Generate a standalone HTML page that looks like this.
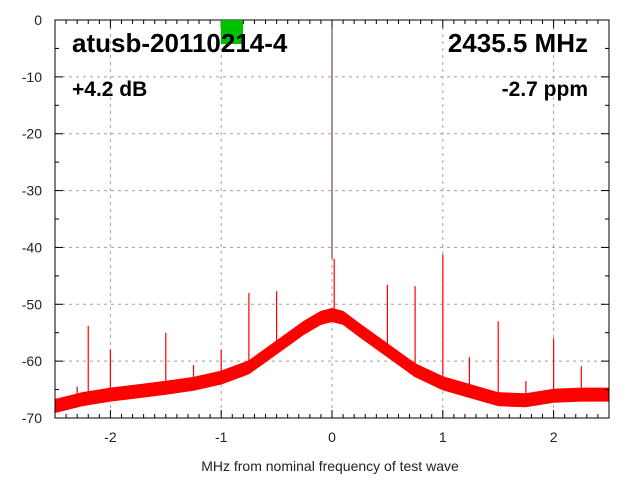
<!DOCTYPE html>
<html><head><meta charset="utf-8"><style>
body{margin:0;background:#fff}
svg{display:block;font-family:"Liberation Sans",sans-serif}
</style></head><body>
<svg id="chart" width="640" height="480" viewBox="0 0 640 480">
<g id="grid"></g>
<g id="band"></g>
<g id="spurs"></g>
<g id="axes"></g>
<rect x="221" y="20" width="22" height="24" fill="#00c000"/>
<text x="72" y="52" font-size="26" font-weight="bold">atusb-20110214-4</text>
<text x="588" y="52" font-size="26" font-weight="bold" text-anchor="end">2435.5 MHz</text>
<text x="72" y="96" font-size="21" font-weight="bold">+4.2 dB</text>
<text x="588" y="96" font-size="21" font-weight="bold" text-anchor="end">-2.7 ppm</text>
<text x="330" y="471" font-size="14" text-anchor="middle" fill="#222">MHz from nominal frequency of test wave</text>
</svg>
<script>
const floorX=[-2.5,-2.25,-2,-1.75,-1.5,-1.25,-1,-0.75,-0.5,-0.25,-0.1,0,0.1,0.25,0.5,0.75,1,1.25,1.5,1.75,2,2.25,2.5];
const floorDb=[-67.8,-66.6,-65.8,-65.2,-64.6,-63.9,-62.8,-61,-57.5,-54,-52.3,-51.8,-52.3,-54.5,-58,-61.5,-63.8,-65.2,-66.6,-66.8,-66,-65.8,-65.8];
const spurX=[-2.3,-2.2,-2,-1.5,-1.3,-1.25,-1,-0.75,-0.5,0.02,0.5,0.6,0.75,1,1.24,1.5,1.75,2,2.25];
const spurDb=[-64.5,-53.8,-57.9,-55,-63,-60.7,-58,-48,-47.7,-42,-46.6,-59,-46.8,-41.2,-59.3,-53,-63.5,-56,-60.9];
const yTicks=[0,-10,-20,-30,-40,-50,-60,-70];
const xTicks=[-2,-1,0,1,2];
const L=55,R=609,T=20,B=418;
const X=v=>L+(v+2.5)/5*(R-L);
const Y=v=>T+(-v)/70*(B-T);
const NS='http://www.w3.org/2000/svg';
function mk(tag,attrs,parent){const e=document.createElementNS(NS,tag);for(const k in attrs)e.setAttribute(k,attrs[k]);parent.appendChild(e);return e;}
const grid=document.getElementById('grid'),axes=document.getElementById('axes'),band=document.getElementById('band'),spurs=document.getElementById('spurs');
yTicks.forEach(t=>{
  if(t!==0&&t!==-70){const g=mk('line',{x1:L,x2:R,y1:Y(t),y2:Y(t),stroke:'#a0a0a0','stroke-dasharray':'3,4'},grid);
  
  }
  const tx=mk('text',{x:42,y:Y(t)+5,'font-size':14,'text-anchor':'end',fill:'#222'},axes);tx.textContent=t;
  
  
});
for(let v=-65;v<0;v+=10){mk('line',{x1:L,x2:L+4,y1:Y(v),y2:Y(v),stroke:'#000'},axes);mk('line',{x1:R,x2:R-4,y1:Y(v),y2:Y(v),stroke:'#000'},axes);}
yTicks.forEach(t=>{mk('line',{x1:L,x2:L+8,y1:Y(t),y2:Y(t),stroke:'#000'},axes);mk('line',{x1:R,x2:R-8,y1:Y(t),y2:Y(t),stroke:'#000'},axes);});
xTicks.forEach(t=>{
  const g=mk('line',{x1:X(t),x2:X(t),y1:T,y2:B,stroke:'#a0a0a0','stroke-dasharray':'3,4'},grid);
  
  
  const tx=mk('text',{x:X(t),y:442,'font-size':14,'text-anchor':'middle',fill:'#222'},axes);tx.textContent=t;
  
  
});
for(let i=-24;i<=24;i++){const v=i/10,big=i%10===0,h=big?8:4;
  mk('line',{x1:X(v),x2:X(v),y1:B,y2:B-h,stroke:'#000'},axes);mk('line',{x1:X(v),x2:X(v),y1:T,y2:T+h,stroke:'#000'},axes);}
const fr=mk('rect',{x:L,y:T,width:R-L,height:B-T,fill:'none',stroke:'#000'},axes);


// noise band
let up=[],dn=[];
floorX.forEach((x,i)=>{up.push(X(x)+','+(Y(floorDb[i])-6));dn.unshift(X(x)+','+Math.min(B,Y(floorDb[i])+7));});
const p=mk('polygon',{points:up.concat(dn).join(' '),fill:'#ff0000',stroke:'#ff0000','stroke-width':1,'stroke-linejoin':'bevel'},band);


function floorAt(x){for(let i=0;i<floorX.length-1;i++){if(x<=floorX[i+1]){const f=(x-floorX[i])/(floorX[i+1]-floorX[i]);return floorDb[i]+f*(floorDb[i+1]-floorDb[i]);}}return floorDb[floorDb.length-1];}
spurX.forEach((x,i)=>{
  const s=mk('line',{x1:X(x),x2:X(x),y1:Y(floorAt(x)),y2:Y(spurDb[i]),stroke:'#ff0000','stroke-width':1.2},spurs);
  
  
});
const c=mk('line',{x1:X(0),x2:X(0),y1:T,y2:Y(-42),stroke:'#552222','stroke-width':1},spurs);


</script>
</body></html>
